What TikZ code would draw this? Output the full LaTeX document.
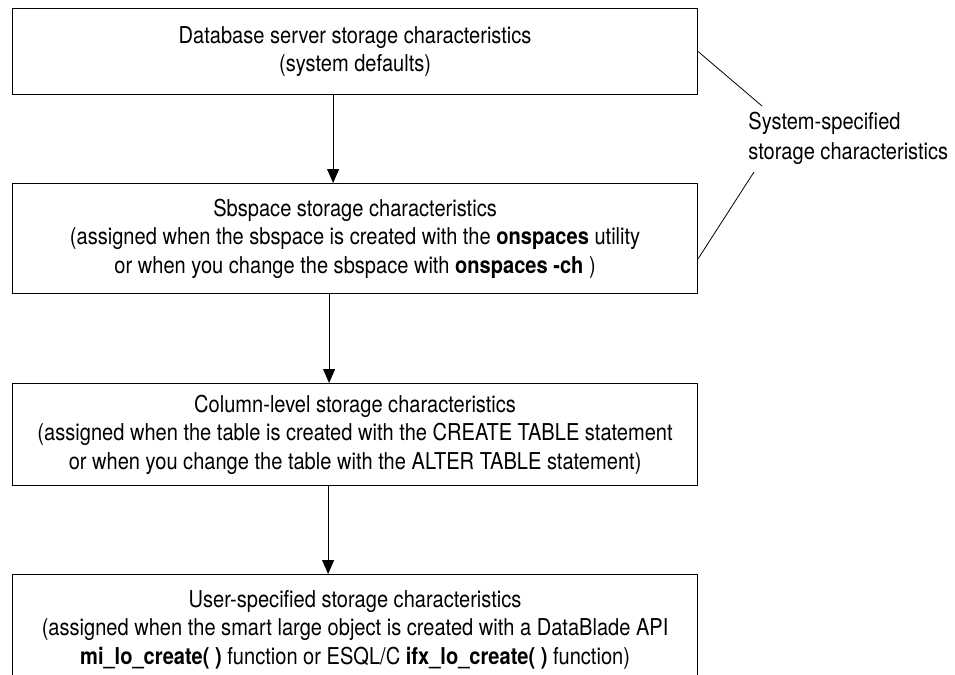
\documentclass[tikz,border=0pt]{standalone}
\usepackage{fontspec}
\setmainfont[FakeStretch=0.865]{TeX Gyre Heros}
\usetikzlibrary{arrows.meta}
\tikzset{
	store/.style={draw, line width=0.6pt, rectangle, anchor=north west, minimum width=342.5pt, align=center, inner sep=0pt, font=\fontsize{11.6}{14.2}\selectfont},
	flow/.style={line width=0.5pt, -{Triangle[width=6pt,length=7pt]}},
	hint/.style={line width=0.4pt}
}

\begin{document}
\begin{tikzpicture}[x=0.5pt,y=-0.5pt]
		%%%%% START %%%%%
		
		\fill[white] (0,0) rectangle (955,675);
		\useasboundingbox (0,0) rectangle (955,675);
		
		\node[store, minimum height=43pt] (server) at (12,8) {Database server storage characteristics\\(system defaults)};
		\node[store, minimum height=55pt] (sbspace) at (12,183) {Sbspace storage characteristics\\(assigned when the sbspace is created with the \textbf{onspaces} utility\\or when you change the sbspace with \textbf{onspaces -ch} )};
		\node[store, minimum height=51pt] (column) at (12,383) {Column-level storage characteristics\\(assigned when the table is created with the CREATE TABLE statement\\or when you change the table with the ALTER TABLE statement)};
		\node[store, minimum height=55pt] (user) at (12,574) {User-specified storage characteristics\\(assigned when the smart large object is created with a DataBlade API\\\textbf{mi\_lo\_create( )} function or ESQL/C \textbf{ifx\_lo\_create( )} function)};
		
		\draw[flow] ([xshift=-11pt]server.south) -- ([xshift=-11pt]sbspace.north);
		\draw[flow] ([xshift=-13pt]sbspace.south) -- ([xshift=-13pt]column.north);
		\draw[flow] ([xshift=-13.5pt]column.south) -- ([xshift=-13.5pt]user.north);
		
		\node[anchor=west, align=left, inner sep=0pt, font=\fontsize{11.6}{15}\selectfont] (system) at (748,138) {System-specified\\storage characteristics};
		\coordinate (sysup) at (762,106);
		\coordinate (sysdown) at (754,172);
		\draw[hint] (server.east) -- (sysup);
		\draw[hint] ([yshift=-10pt]sbspace.east) -- (sysdown);
		
		%%%%% END %%%%%
	\end{tikzpicture}
\end{document}
